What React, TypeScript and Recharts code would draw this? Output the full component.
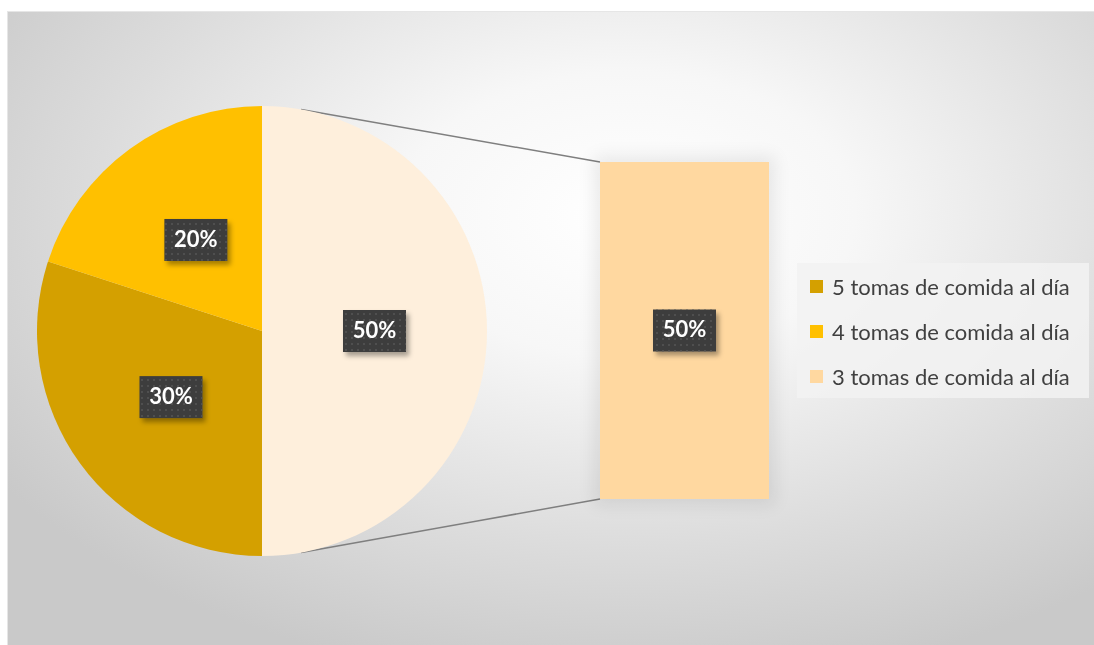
import React from 'react';
import { PieChart, Pie, Cell, BarChart, Bar, XAxis, YAxis, LabelList, Customized } from 'recharts';

// ---- data ----
const pieNames = ['Otros (3 tomas de comida al día)', '5 tomas de comida al día', '4 tomas de comida al día'];
const pieValues = [50, 30, 20];
const pieColors = ['#FEEFDC', '#D4A000', '#FFC000'];

const barNames = ['3 tomas de comida al día'];
const barValues = [50];
const barColors = ['#FFD8A0'];

const legendNames = ['5 tomas de comida al día', '4 tomas de comida al día', '3 tomas de comida al día'];
const legendColors = ['#D4A000', '#FFC000', '#FFD8A0'];

const pieData = pieNames.map((n, i) => ({ name: n, value: pieValues[i] }));
const barData = barNames.map((n, i) => ({ name: n, value: barValues[i] }));

// ---- layout ----
const W = 1087;
const H = 634;
const CX = 255;
const CY = 320;
const R = 225;
const BAR_L = 593;
const BAR_T = 151;
const BAR_W = 169;
const BAR_H = 337;
const CONNECT_ANGLE = 10; // degrees from top where connector leaves pie

const FONT = 'Lato, "Open Sans", sans-serif';

const LabelBox = ({ x, y, text }: { x: number; y: number; text: string }) => {
  const w = 63;
  const h = 42;
  return (
    <g>
      <rect x={x - w / 2} y={y - h / 2} width={w} height={h} fill="#3d3d3d" filter="url(#lblShadow)" />
      <rect x={x - w / 2} y={y - h / 2} width={w} height={h} fill="url(#dots)" />
      <text x={x} y={y + 1} textAnchor="middle" dominantBaseline="middle" fill="#ffffff"
        fontFamily={FONT} fontWeight={700} fontSize={22}>{text}</text>
    </g>
  );
};

const Defs = () => (
  <defs>
    <pattern id="dots" width="6" height="6" patternUnits="userSpaceOnUse">
      <circle cx="3" cy="3" r="1" fill="#555555" />
    </pattern>
    <filter id="lblShadow" x="-30%" y="-30%" width="170%" height="180%">
      <feDropShadow dx="3" dy="4" stdDeviation="2.5" floodColor="#000" floodOpacity="0.35" />
    </filter>
  </defs>
);

const renderPieLabel = (p: any) => {
  const RAD = Math.PI / 180;
  const r = p.outerRadius * 0.5;
  const x = p.cx + r * Math.cos(-p.midAngle * RAD);
  const y = p.cy + r * Math.sin(-p.midAngle * RAD);
  return <LabelBox x={x} y={y} text={`${Math.round(p.percent * 100)}%`} />;
};

const Connectors = () => {
  const a = (CONNECT_ANGLE * Math.PI) / 180;
  const sx = CX + R * Math.sin(a);
  const syTop = CY - R * Math.cos(a);
  const syBot = CY + R * Math.cos(a);
  return (
    <g>
      <line x1={sx} y1={syTop} x2={BAR_L} y2={BAR_T} stroke="#7f7f7f" strokeWidth={1.5} />
      <line x1={sx} y1={syBot} x2={BAR_L} y2={BAR_T + BAR_H} stroke="#7f7f7f" strokeWidth={1.5} />
    </g>
  );
};

const renderBarLabel = (p: any) => {
  return <LabelBox x={p.x + p.width / 2} y={p.y + p.height / 2} text={`${p.value}%`} />;
};

export default function App() {
  return (
    <div style={{ position: 'fixed', left: 7, top: 11, width: W, height: H,
      background: 'radial-gradient(ellipse 70% 75% at 57% 32%, #ffffff 0%, #f7f7f7 30%, #dcdcdc 70%, #c9c9c9 100%)',
      borderLeft: '1px solid #e6e6e6', borderTop: '1px solid #e6e6e6', boxSizing: 'border-box' }}>
      <div style={{ position: 'absolute', left: -1, top: -1 }}>
        <PieChart width={W} height={H} margin={{ top: 0, right: 0, bottom: 0, left: 0 }}>
          <Defs />
          <Customized component={Connectors} />
          <Pie data={pieData} dataKey="value" nameKey="name" cx={CX} cy={CY} outerRadius={R}
            startAngle={90} endAngle={-270} stroke="none" isAnimationActive={false}
            label={renderPieLabel} labelLine={false}>
            {pieData.map((d, i) => <Cell key={d.name} fill={pieColors[i]} />)}
          </Pie>
        </PieChart>
      </div>
      <div style={{ position: 'absolute', left: BAR_L - 1, top: BAR_T - 1, boxShadow: '0 0 16px 6px rgba(0,0,0,0.08)' }}>
        <BarChart width={BAR_W} height={BAR_H} data={barData} margin={{ top: 0, right: 0, bottom: 0, left: 0 }}
          barCategoryGap={0} style={{ overflow: 'visible' }}>
          <Defs />
          <XAxis dataKey="name" hide />
          <YAxis hide domain={[0, 50]} />
          <Bar dataKey="value" isAnimationActive={false}>
            {barData.map((d, i) => <Cell key={d.name} fill={barColors[i]} />)}
            <LabelList dataKey="value" content={renderBarLabel} />
          </Bar>
        </BarChart>
      </div>
      <div style={{ position: 'absolute', left: 789, top: 251, width: 292, height: 135,
        background: 'rgba(242,242,242,0.85)', fontFamily: FONT, fontSize: 22, color: '#404040' }}>
        {legendNames.map((n, i) => (
          <div key={n} style={{ position: 'absolute', left: 13, top: 11 + i * 45, height: 24,
            display: 'flex', alignItems: 'center', whiteSpace: 'nowrap' }}>
            <span style={{ display: 'inline-block', width: 13, height: 13, background: legendColors[i], marginRight: 9 }} />
            <span>{n}</span>
          </div>
        ))}
      </div>
    </div>
  );
}
